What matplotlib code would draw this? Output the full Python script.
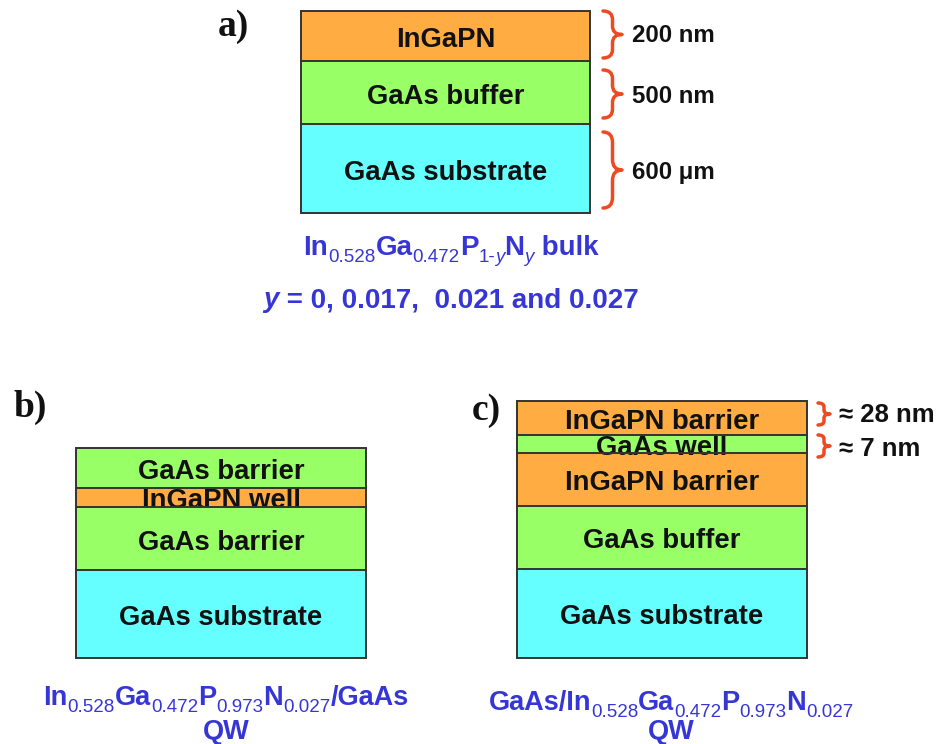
import matplotlib
matplotlib.use("Agg")
import matplotlib.pyplot as plt
from matplotlib.patches import Rectangle, PathPatch
from matplotlib.path import Path

# ---- layer stacks -------------------------------------------------------
stack_a_labels = ["InGaPN", "GaAs buffer", "GaAs substrate"]
stack_a_kinds = ["ingapn", "gaas", "substrate"]
stack_a_heights = [50, 63, 89]

stack_b_labels = ["GaAs barrier", "InGaPN well", "GaAs barrier", "GaAs substrate"]
stack_b_kinds = ["gaas", "ingapn", "gaas", "substrate"]
stack_b_heights = [40, 19, 63, 88]

stack_c_labels = ["InGaPN barrier", "GaAs well", "InGaPN barrier",
                  "GaAs buffer", "GaAs substrate"]
stack_c_kinds = ["ingapn", "gaas", "ingapn", "gaas", "substrate"]
stack_c_heights = [34, 18, 53, 63, 89]

# ---- thickness annotations ----------------------------------------------
thick_a_labels = ["200 nm", "500 nm", "600 μm"]
thick_c_labels = ["≈ 28 nm", "≈ 7 nm"]

# ---- compositions (text, style) ------------------------------------------
# style: b = bold, s = subscript, si = italic subscript, bi = bold italic
formula_a = [("In", "b"), ("0.528", "s"), ("Ga", "b"), ("0.472", "s"),
             ("P", "b"), ("1-", "s"), ("y", "si"), ("N", "b"), ("y", "si"),
             (" bulk", "b")]
formula_a2 = [("y", "bi"), (" = 0, 0.017,  0.021 and 0.027", "b")]
formula_b = [("In", "b"), ("0.528", "s"), ("Ga", "b"), ("0.472", "s"),
             ("P", "b"), ("0.973", "s"), ("N", "b"), ("0.027", "s"),
             ("/GaAs", "b")]
formula_c = [("GaAs/In", "b"), ("0.528", "s"), ("Ga", "b"), ("0.472", "s"),
             ("P", "b"), ("0.973", "s"), ("N", "b"), ("0.027", "s")]
qw_label = "QW"

colors = {"ingapn": "#FFAD42", "gaas": "#99FF66", "substrate": "#66FFFF"}
TEXT_BLUE = "#3636D6"
BRACE_RED = "#EE4A22"
SANS = "Liberation Sans"
SERIF = "Liberation Serif"

W, H = 943, 744
fig = plt.figure(figsize=(W / 100, H / 100), dpi=100)
ax = fig.add_axes([0, 0, 1, 1])
ax.set_xlim(0, W)
ax.set_ylim(H, 0)
ax.axis("off")
renderer = fig.canvas.get_renderer()


def draw_stack(x0, x1, y_top, labels, kinds, heights, fs):
    y = y_top
    for lab, kind, h in zip(labels, kinds, heights):
        rect = Rectangle((x0, y), x1 - x0, h, facecolor=colors[kind],
                         edgecolor="none", zorder=1)
        ax.add_patch(rect)
        t = ax.text((x0 + x1) / 2, y + h / 2 + 1, lab, ha="center",
                    va="center_baseline", fontsize=fs, fontweight="bold",
                    family=SANS, color="#111111", zorder=2)
        t.set_clip_path(rect)
        y += h
    # layer boundaries and outline
    y = y_top
    for h in heights[:-1]:
        y += h
        ax.plot([x0, x1], [y, y], color="#333333", lw=1.4, zorder=3)
    ax.add_patch(Rectangle((x0, y_top), x1 - x0, sum(heights),
                           facecolor="none", edgecolor="#333333", lw=1.4,
                           zorder=3))


def brace(x, y0, y1, w, lw=2.5):
    ym = (y0 + y1) / 2
    r = min(w * 0.55, (y1 - y0) * 0.18)
    xm = x + w * 0.5
    verts = [(x, y0), (xm, y0), (xm, y0 + r),
             (xm, ym - r), (xm, ym), (x + w, ym),
             (xm, ym), (xm, ym + r),
             (xm, y1 - r), (xm, y1), (x, y1)]
    codes = [Path.MOVETO, Path.CURVE3, Path.CURVE3,
             Path.LINETO, Path.CURVE3, Path.CURVE3,
             Path.CURVE3, Path.CURVE3,
             Path.LINETO, Path.CURVE3, Path.CURVE3]
    ax.add_patch(PathPatch(Path(verts, codes), facecolor="none",
                           edgecolor=BRACE_RED, lw=lw, capstyle="round",
                           joinstyle="round", zorder=3))


def rich_text(xc, y, segments, fs, sub_fs, sub_drop, color):
    """Centered line of text built from bold runs and plain subscripts."""
    texts = []
    for s, style in segments:
        if style in ("s", "si"):
            t = ax.text(0, y + sub_drop, s, fontsize=sub_fs, family=SANS,
                        fontweight="normal",
                        fontstyle="italic" if style == "si" else "normal",
                        color=color, va="baseline", ha="left")
        else:
            t = ax.text(0, y, s, fontsize=fs, family=SANS, fontweight="bold",
                        fontstyle="italic" if style == "bi" else "normal",
                        color=color, va="baseline", ha="left")
        texts.append(t)
    widths = [t.get_window_extent(renderer).width for t in texts]
    x = xc - sum(widths) / 2
    for t, wd in zip(texts, widths):
        t.set_x(x)
        x += wd


def panel_label(x, y, s):
    ax.text(x, y, s, fontsize=27, fontweight="bold", family=SERIF,
            ha="left", va="center", color="#111111")


# ---- panel a --------------------------------------------------------------
panel_label(218, 26, "a)")
draw_stack(301, 590, 11, stack_a_labels, stack_a_kinds, stack_a_heights, 19.8)
brace_a = [(11, 58), (70, 118), (132, 208)]
label_y_a = [33, 94, 170]
for (b0, b1), ly, lab in zip(brace_a, label_y_a, thick_a_labels):
    brace(603, b0, b1, 19)
    ax.text(632, ly, lab, fontsize=17.3, fontweight="bold", family=SANS,
            ha="left", va="center_baseline", color="#111111")
rich_text(451, 255, formula_a, 20, 13.5, 7, TEXT_BLUE)
rich_text(451, 307, formula_a2, 20, 13.5, 7, TEXT_BLUE)

# ---- panel b --------------------------------------------------------------
panel_label(14, 407, "b)")
draw_stack(76, 366, 448, stack_b_labels, stack_b_kinds, stack_b_heights, 19.8)
rich_text(226, 705, formula_b, 19.5, 13.5, 7, TEXT_BLUE)
ax.text(226, 729, qw_label, fontsize=19.5, fontweight="bold", family=SANS,
        ha="center", va="center_baseline", color=TEXT_BLUE)

# ---- panel c --------------------------------------------------------------
panel_label(472, 410, "c)")
draw_stack(517, 807, 401, stack_c_labels, stack_c_kinds, stack_c_heights, 19.8)
brace_c = [(403, 425), (435, 457)]
label_y_c = [413, 447]
for (b0, b1), ly, lab in zip(brace_c, label_y_c, thick_c_labels):
    brace(818, b0, b1, 12)
    ax.text(839, ly, lab, fontsize=18.5, fontweight="bold", family=SANS,
            ha="left", va="center_baseline", color="#111111")
rich_text(671, 710, formula_c, 19.5, 13.5, 7, TEXT_BLUE)
ax.text(671, 729, qw_label, fontsize=19.5, fontweight="bold", family=SANS,
        ha="center", va="center_baseline", color=TEXT_BLUE)

fig.savefig("out.png", dpi=100, facecolor="white")
